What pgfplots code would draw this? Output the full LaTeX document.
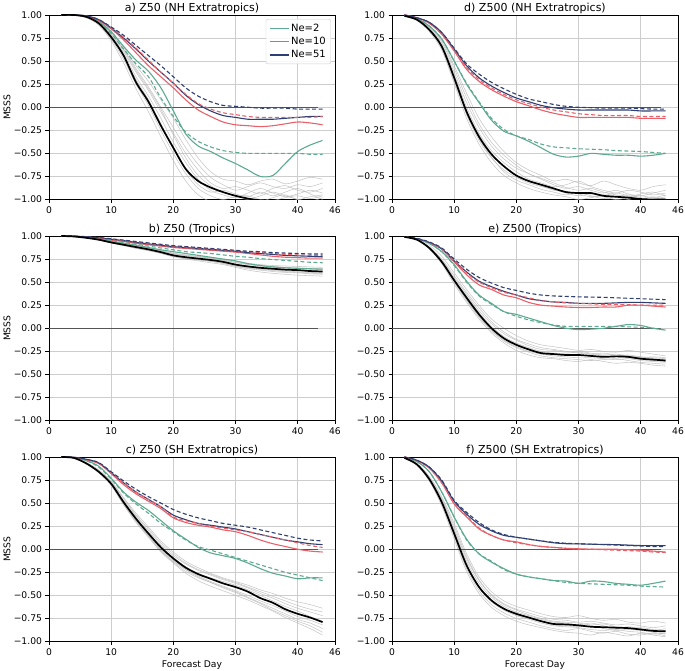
\documentclass[border=0pt]{standalone}
\usepackage{fontspec}
\setmainfont{DejaVu Sans}
\usepackage{pgfplots}
\usepackage{pgfplotstable}
\pgfplotsset{compat=1.18}
\usepgfplotslibrary{groupplots}

\definecolor{cgreen}{RGB}{94,170,145}
\definecolor{cred}{RGB}{232,96,106}
\definecolor{cnavy}{RGB}{46,63,114}
\definecolor{cgray}{RGB}{185,185,185}
\definecolor{cgrid}{RGB}{205,205,205}
\definecolor{czero}{RGB}{85,85,85}

% ---------- panel a: Z50 NH extratropics
\pgfplotstableread{
name 2 4 6 8 10 12 14 16 18 20 22 24 26 28 30 32 34 36 38 40 42 44
g1 1 1 0.99 0.93 0.81 0.65 0.45 0.28 0.08 -0.12 -0.35 -0.55 -0.70 -0.78 -0.80 -0.84 -0.80 -0.78 -0.83 -0.80 -0.76 -0.78
g2 1 1 0.98 0.92 0.78 0.60 0.38 0.18 -0.05 -0.28 -0.50 -0.68 -0.82 -0.88 -0.86 -0.90 -0.94 -0.88 -0.85 -0.90 -0.92 -0.88
g3 1 1 0.98 0.91 0.77 0.58 0.33 0.12 -0.12 -0.38 -0.60 -0.78 -0.90 -0.95 -0.98 -0.93 -0.88 -0.93 -0.97 -0.94 -0.90 -0.93
g4 1 1 0.98 0.90 0.74 0.52 0.25 0.02 -0.25 -0.50 -0.72 -0.88 -0.96 -1.00 -0.97 -0.99 -1.02 -0.98 -0.95 -1.00 -0.97 -0.95
g5 1 1 0.97 0.89 0.72 0.48 0.20 -0.05 -0.32 -0.58 -0.80 -0.95 -1.02 -1.03 -1.02 -1.00 -0.96 -0.92 -0.96 -1.00 -1.02 -0.98
g6 1 1 0.99 0.93 0.80 0.63 0.42 0.22 0.00 -0.22 -0.44 -0.62 -0.76 -0.84 -0.90 -0.86 -0.82 -0.86 -0.88 -0.84 -0.86 -0.82
g7 1 1 0.98 0.91 0.76 0.55 0.30 0.08 -0.18 -0.45 -0.68 -0.84 -0.92 -0.90 -0.94 -0.97 -0.92 -0.96 -0.92 -0.88 -0.94 -1.00
g8 1 1 0.98 0.92 0.79 0.62 0.40 0.20 -0.02 -0.30 -0.55 -0.74 -0.85 -0.92 -0.96 -0.96 -1.00 -1.01 -0.98 -0.96 -0.99 -0.96
n2 1 1 0.98 0.93 0.82 0.66 0.51 0.39 0.21 -0.04 -0.29 -0.42 -0.48 -0.55 -0.61 -0.68 -0.75 -0.74 -0.61 -0.48 -0.41 -0.36
n2d 1 1 0.98 0.92 0.80 0.63 0.47 0.33 0.10 -0.10 -0.27 -0.37 -0.43 -0.47 -0.49 -0.50 -0.50 -0.50 -0.50 -0.50 -0.51 -0.51
n10 1 1 0.98 0.94 0.85 0.73 0.59 0.45 0.33 0.21 0.08 -0.03 -0.10 -0.16 -0.19 -0.20 -0.21 -0.20 -0.18 -0.16 -0.17 -0.19
n10d 1 1 0.99 0.95 0.86 0.76 0.64 0.51 0.38 0.26 0.14 0.04 -0.02 -0.06 -0.08 -0.10 -0.11 -0.11 -0.11 -0.11 -0.11 -0.10
n51 1 1 0.99 0.95 0.86 0.75 0.63 0.50 0.38 0.26 0.13 0.03 -0.04 -0.09 -0.11 -0.13 -0.13 -0.13 -0.12 -0.11 -0.10 -0.10
n51d 1 1 0.99 0.95 0.87 0.78 0.67 0.56 0.45 0.33 0.21 0.12 0.06 0.02 0.01 0.00 -0.01 -0.01 -0.01 -0.02 -0.02 -0.02
blk 1 1 0.98 0.91 0.76 0.56 0.27 0.06 -0.20 -0.44 -0.67 -0.80 -0.87 -0.92 -0.96 -0.99 -1.01 -1.02 -1.03 -1.03 -1.03 -1.03
}\rawA
% ---------- panel d: Z500 NH extratropics
\pgfplotstableread{
name 2 4 6 8 10 12 14 16 18 20 22 24 26 28 30 32 34 36 38 40 42 44
g1 0.99 0.96 0.87 0.72 0.45 0.15 -0.12 -0.32 -0.48 -0.60 -0.68 -0.74 -0.80 -0.78 -0.82 -0.85 -0.80 -0.84 -0.88 -0.90 -0.86 -0.84
g2 0.99 0.95 0.85 0.68 0.38 0.05 -0.22 -0.42 -0.56 -0.66 -0.72 -0.78 -0.84 -0.88 -0.86 -0.90 -0.93 -0.90 -0.94 -0.96 -0.93 -0.90
g3 0.99 0.95 0.84 0.65 0.30 -0.08 -0.36 -0.55 -0.68 -0.76 -0.82 -0.86 -0.89 -0.93 -0.96 -0.94 -0.97 -1.00 -0.98 -0.96 -0.98 -0.95
g4 0.99 0.94 0.82 0.62 0.26 -0.12 -0.40 -0.60 -0.74 -0.82 -0.88 -0.92 -0.95 -0.97 -1.00 -0.98 -0.95 -0.97 -1.00 -1.02 -1.00 -0.97
g5 0.99 0.95 0.85 0.67 0.35 0.00 -0.28 -0.47 -0.60 -0.70 -0.78 -0.82 -0.86 -0.84 -0.80 -0.86 -0.90 -0.93 -0.90 -0.92 -0.95 -0.93
g6 0.99 0.95 0.83 0.64 0.28 -0.06 -0.34 -0.54 -0.70 -0.79 -0.84 -0.89 -0.92 -0.95 -0.92 -0.96 -0.99 -0.97 -0.95 -0.98 -1.00 -0.99
g7 0.99 0.96 0.86 0.70 0.42 0.10 -0.18 -0.38 -0.52 -0.63 -0.72 -0.77 -0.82 -0.87 -0.90 -0.88 -0.92 -0.95 -0.97 -0.94 -0.92 -0.96
g8 0.99 0.95 0.84 0.66 0.33 -0.03 -0.30 -0.50 -0.64 -0.74 -0.80 -0.85 -0.90 -0.91 -0.94 -0.97 -0.96 -0.93 -0.96 -0.99 -0.97 -1.00
n2 0.99 0.96 0.88 0.74 0.50 0.25 0.05 -0.14 -0.26 -0.31 -0.37 -0.44 -0.51 -0.54 -0.53 -0.50 -0.51 -0.52 -0.52 -0.53 -0.52 -0.50
n2d 0.99 0.96 0.88 0.74 0.50 0.26 0.06 -0.12 -0.24 -0.31 -0.35 -0.40 -0.43 -0.44 -0.45 -0.455 -0.46 -0.47 -0.475 -0.48 -0.49 -0.50
n10 1.00 0.97 0.91 0.79 0.61 0.41 0.28 0.19 0.12 0.06 0.016 -0.03 -0.065 -0.09 -0.11 -0.11 -0.11 -0.11 -0.11 -0.12 -0.12 -0.12
n10d 1.00 0.97 0.91 0.80 0.62 0.43 0.30 0.21 0.14 0.08 0.04 0.00 -0.03 -0.05 -0.07 -0.08 -0.09 -0.09 -0.09 -0.10 -0.10 -0.10
n51 1.00 0.97 0.92 0.81 0.63 0.45 0.32 0.23 0.16 0.10 0.06 0.02 -0.005 -0.02 -0.03 -0.03 -0.03 -0.03 -0.03 -0.04 -0.04 -0.04
n51d 1.00 0.97 0.92 0.81 0.64 0.47 0.36 0.27 0.20 0.14 0.09 0.06 0.03 0.01 0.00 -0.005 -0.01 -0.01 -0.01 -0.015 -0.02 -0.02
blk 0.99 0.95 0.84 0.66 0.32 -0.05 -0.32 -0.51 -0.64 -0.74 -0.80 -0.84 -0.88 -0.92 -0.93 -0.93 -0.96 -0.97 -0.98 -0.995 -1.00 -1.00
}\rawD
% ---------- panel b: Z50 tropics
\pgfplotstableread{
name 2 4 6 8 10 12 14 16 18 20 22 24 26 28 30 32 34 36 38 40 42 44
g1 1.00 0.995 0.985 0.965 0.94 0.92 0.895 0.87 0.845 0.815 0.795 0.78 0.765 0.75 0.725 0.705 0.69 0.68 0.675 0.67 0.665 0.66
g2 1.00 0.995 0.98 0.955 0.925 0.90 0.87 0.845 0.815 0.78 0.755 0.74 0.725 0.70 0.67 0.645 0.63 0.615 0.605 0.60 0.59 0.585
g3 1.00 0.995 0.98 0.96 0.93 0.905 0.88 0.855 0.825 0.795 0.775 0.76 0.745 0.725 0.695 0.675 0.66 0.65 0.64 0.63 0.625 0.62
g4 1.00 0.994 0.978 0.955 0.925 0.895 0.865 0.84 0.81 0.775 0.75 0.73 0.71 0.69 0.66 0.63 0.61 0.595 0.585 0.575 0.57 0.565
g5 1.00 0.996 0.983 0.963 0.935 0.912 0.888 0.865 0.838 0.805 0.785 0.77 0.755 0.735 0.71 0.69 0.675 0.665 0.655 0.645 0.64 0.635
g6 1.00 0.995 0.98 0.958 0.928 0.902 0.876 0.85 0.82 0.788 0.765 0.748 0.733 0.71 0.68 0.66 0.645 0.632 0.622 0.612 0.605 0.60
g7 1.00 0.996 0.984 0.962 0.936 0.914 0.89 0.866 0.84 0.81 0.79 0.775 0.76 0.74 0.715 0.695 0.68 0.67 0.66 0.652 0.648 0.645
g8 1.00 0.994 0.979 0.957 0.927 0.90 0.872 0.846 0.817 0.783 0.76 0.743 0.727 0.705 0.675 0.652 0.637 0.625 0.613 0.605 0.598 0.59
n2 1.00 0.995 0.985 0.965 0.94 0.92 0.90 0.875 0.85 0.83 0.81 0.79 0.77 0.75 0.73 0.70 0.68 0.665 0.655 0.65 0.645 0.64
n2d 1.00 0.995 0.985 0.97 0.95 0.93 0.91 0.89 0.87 0.85 0.83 0.82 0.81 0.795 0.78 0.77 0.755 0.745 0.735 0.725 0.715 0.71
n10 1.00 0.997 0.99 0.975 0.955 0.94 0.92 0.905 0.89 0.875 0.865 0.855 0.845 0.835 0.825 0.81 0.795 0.78 0.77 0.765 0.76 0.76
n10d 1.00 0.997 0.99 0.98 0.965 0.95 0.935 0.92 0.905 0.89 0.88 0.87 0.86 0.85 0.84 0.83 0.82 0.81 0.80 0.795 0.79 0.79
n51 1.00 0.997 0.99 0.98 0.965 0.95 0.93 0.915 0.90 0.885 0.875 0.865 0.855 0.845 0.835 0.82 0.81 0.80 0.79 0.785 0.78 0.775
n51d 1.00 0.998 0.993 0.983 0.97 0.955 0.94 0.925 0.91 0.895 0.885 0.875 0.865 0.855 0.845 0.835 0.83 0.82 0.815 0.81 0.805 0.805
blk 1.00 0.995 0.98 0.96 0.93 0.905 0.88 0.855 0.825 0.79 0.77 0.755 0.74 0.72 0.69 0.67 0.655 0.645 0.635 0.63 0.62 0.615
}\rawB
% ---------- panel e: Z500 tropics
\pgfplotstableread{
name 2 4 6 8 10 12 14 16 18 20 22 24 26 28 30 32 34 36 38 40 42 44
g1 0.99 0.97 0.90 0.78 0.60 0.42 0.25 0.10 0.00 -0.08 -0.14 -0.18 -0.20 -0.22 -0.24 -0.23 -0.25 -0.26 -0.24 -0.26 -0.28 -0.30
g2 0.99 0.96 0.88 0.74 0.55 0.37 0.19 0.05 -0.06 -0.13 -0.19 -0.23 -0.24 -0.26 -0.25 -0.27 -0.29 -0.28 -0.30 -0.31 -0.32 -0.33
g3 0.99 0.96 0.87 0.71 0.50 0.30 0.12 -0.03 -0.14 -0.21 -0.26 -0.30 -0.32 -0.33 -0.34 -0.35 -0.34 -0.33 -0.35 -0.37 -0.38 -0.39
g4 0.99 0.96 0.86 0.70 0.48 0.28 0.10 -0.05 -0.16 -0.24 -0.29 -0.32 -0.33 -0.35 -0.36 -0.34 -0.36 -0.38 -0.37 -0.38 -0.40 -0.41
g5 0.99 0.96 0.87 0.73 0.53 0.35 0.17 0.02 -0.09 -0.16 -0.21 -0.25 -0.27 -0.27 -0.26 -0.28 -0.30 -0.30 -0.29 -0.31 -0.33 -0.34
g6 0.99 0.96 0.88 0.75 0.57 0.39 0.22 0.07 -0.04 -0.12 -0.17 -0.21 -0.23 -0.25 -0.27 -0.28 -0.27 -0.29 -0.31 -0.32 -0.31 -0.32
g7 0.99 0.96 0.86 0.71 0.51 0.31 0.13 -0.02 -0.13 -0.20 -0.25 -0.28 -0.30 -0.31 -0.32 -0.32 -0.33 -0.34 -0.33 -0.35 -0.36 -0.37
g8 0.99 0.96 0.87 0.72 0.52 0.34 0.16 0.01 -0.10 -0.17 -0.22 -0.26 -0.28 -0.28 -0.29 -0.30 -0.31 -0.31 -0.32 -0.34 -0.35 -0.36
n2 0.99 0.97 0.92 0.83 0.69 0.51 0.36 0.27 0.18 0.15 0.11 0.07 0.03 0.00 -0.015 -0.01 0.00 0.02 0.04 0.03 0.00 -0.02
n2d 0.99 0.97 0.92 0.83 0.68 0.50 0.35 0.26 0.18 0.13 0.09 0.06 0.035 0.02 0.02 0.02 0.02 0.02 0.015 0.01 0.00 -0.02
n10 0.99 0.97 0.93 0.86 0.72 0.58 0.47 0.42 0.36 0.33 0.28 0.25 0.24 0.23 0.225 0.225 0.23 0.23 0.25 0.25 0.24 0.23
n10d 0.99 0.97 0.93 0.86 0.73 0.60 0.50 0.44 0.39 0.36 0.33 0.30 0.285 0.275 0.27 0.265 0.26 0.26 0.255 0.25 0.25 0.25
n51 0.99 0.97 0.93 0.86 0.73 0.61 0.51 0.45 0.40 0.36 0.32 0.30 0.285 0.28 0.27 0.27 0.27 0.275 0.28 0.28 0.275 0.27
n51d 0.99 0.975 0.935 0.87 0.75 0.64 0.55 0.49 0.44 0.41 0.38 0.36 0.35 0.345 0.34 0.338 0.335 0.33 0.325 0.32 0.315 0.31
blk 0.99 0.96 0.87 0.72 0.52 0.33 0.15 0.00 -0.11 -0.18 -0.23 -0.27 -0.28 -0.29 -0.29 -0.30 -0.31 -0.305 -0.31 -0.33 -0.34 -0.35
}\rawE
% ---------- panel c: Z50 SH extratropics
\pgfplotstableread{
name 2 4 6 8 10 12 14 16 18 20 22 24 26 28 30 32 34 36 38 40 42 44
g1 1.00 0.99 0.94 0.86 0.74 0.56 0.39 0.24 0.09 -0.03 -0.13 -0.20 -0.26 -0.31 -0.35 -0.39 -0.44 -0.48 -0.53 -0.57 -0.60 -0.64
g2 1.00 0.99 0.93 0.84 0.70 0.50 0.31 0.15 -0.01 -0.14 -0.24 -0.31 -0.36 -0.41 -0.46 -0.52 -0.58 -0.64 -0.70 -0.76 -0.80 -0.86
g3 1.00 0.99 0.93 0.83 0.69 0.48 0.29 0.13 -0.03 -0.15 -0.26 -0.34 -0.40 -0.45 -0.50 -0.55 -0.61 -0.67 -0.74 -0.80 -0.86 -0.93
g4 1.00 0.99 0.94 0.85 0.72 0.53 0.36 0.20 0.05 -0.07 -0.16 -0.23 -0.28 -0.33 -0.37 -0.42 -0.48 -0.53 -0.59 -0.64 -0.68 -0.72
g5 1.00 0.99 0.93 0.84 0.71 0.52 0.34 0.18 0.03 -0.09 -0.19 -0.26 -0.31 -0.35 -0.39 -0.44 -0.50 -0.56 -0.62 -0.67 -0.73 -0.78
g6 1.00 0.99 0.93 0.83 0.70 0.49 0.30 0.14 -0.02 -0.13 -0.22 -0.29 -0.35 -0.40 -0.45 -0.50 -0.56 -0.61 -0.67 -0.73 -0.77 -0.82
g7 1.00 0.99 0.94 0.85 0.73 0.55 0.37 0.22 0.07 -0.05 -0.15 -0.22 -0.27 -0.32 -0.36 -0.41 -0.46 -0.51 -0.56 -0.61 -0.65 -0.68
g8 1.00 0.99 0.93 0.84 0.70 0.50 0.32 0.16 0.00 -0.12 -0.22 -0.30 -0.36 -0.42 -0.47 -0.53 -0.59 -0.66 -0.72 -0.78 -0.83 -0.90
n2 1.00 0.995 0.96 0.90 0.77 0.62 0.51 0.42 0.31 0.20 0.11 0.02 -0.04 -0.07 -0.10 -0.15 -0.21 -0.26 -0.29 -0.32 -0.31 -0.31
n2d 1.00 0.995 0.96 0.89 0.76 0.61 0.49 0.39 0.28 0.19 0.10 0.03 -0.01 -0.05 -0.09 -0.13 -0.17 -0.21 -0.25 -0.28 -0.31 -0.34
n10 1.00 0.995 0.97 0.93 0.82 0.70 0.60 0.52 0.44 0.34 0.29 0.26 0.24 0.21 0.19 0.15 0.10 0.06 0.03 0.00 -0.02 -0.03
n10d 1.00 0.995 0.97 0.93 0.83 0.72 0.62 0.54 0.46 0.35 0.31 0.28 0.25 0.23 0.21 0.19 0.16 0.13 0.10 0.07 0.04 0.02
n51 1.00 0.997 0.975 0.935 0.83 0.72 0.62 0.54 0.46 0.37 0.32 0.28 0.26 0.24 0.22 0.19 0.16 0.13 0.10 0.08 0.06 0.05
n51d 1.00 0.997 0.975 0.94 0.84 0.74 0.65 0.57 0.50 0.43 0.38 0.34 0.31 0.28 0.26 0.24 0.21 0.18 0.15 0.12 0.10 0.09
blk 1.00 0.99 0.93 0.84 0.71 0.51 0.33 0.17 0.02 -0.10 -0.20 -0.27 -0.32 -0.37 -0.41 -0.46 -0.53 -0.58 -0.65 -0.70 -0.74 -0.79
}\rawC
% ---------- panel f: Z500 SH extratropics
\pgfplotstableread{
name 2 4 6 8 10 12 14 16 18 20 22 24 26 28 30 32 34 36 38 40 42 44
g1 0.99 0.93 0.79 0.57 0.28 -0.05 -0.30 -0.46 -0.56 -0.62 -0.66 -0.70 -0.73 -0.74 -0.72 -0.75 -0.77 -0.76 -0.79 -0.80 -0.78 -0.80
g2 0.99 0.92 0.77 0.53 0.20 -0.13 -0.37 -0.52 -0.62 -0.68 -0.72 -0.76 -0.79 -0.80 -0.82 -0.80 -0.83 -0.86 -0.84 -0.86 -0.88 -0.86
g3 0.99 0.91 0.75 0.49 0.14 -0.21 -0.45 -0.60 -0.69 -0.75 -0.79 -0.83 -0.86 -0.88 -0.86 -0.89 -0.91 -0.89 -0.92 -0.93 -0.91 -0.94
g4 0.99 0.91 0.74 0.47 0.11 -0.24 -0.48 -0.63 -0.72 -0.78 -0.82 -0.85 -0.88 -0.90 -0.91 -0.93 -0.90 -0.92 -0.94 -0.91 -0.93 -0.95
g5 0.99 0.92 0.77 0.54 0.22 -0.10 -0.34 -0.49 -0.59 -0.65 -0.69 -0.73 -0.76 -0.77 -0.79 -0.78 -0.80 -0.82 -0.81 -0.83 -0.85 -0.83
g6 0.99 0.92 0.76 0.50 0.16 -0.18 -0.42 -0.57 -0.66 -0.72 -0.76 -0.80 -0.83 -0.84 -0.85 -0.87 -0.88 -0.87 -0.89 -0.90 -0.92 -0.91
g7 0.99 0.93 0.78 0.55 0.25 -0.08 -0.33 -0.50 -0.60 -0.66 -0.71 -0.75 -0.78 -0.79 -0.80 -0.82 -0.81 -0.84 -0.86 -0.85 -0.87 -0.88
g8 0.99 0.92 0.76 0.51 0.18 -0.16 -0.40 -0.55 -0.65 -0.71 -0.75 -0.78 -0.82 -0.83 -0.84 -0.83 -0.86 -0.88 -0.87 -0.88 -0.90 -0.92
n2 0.99 0.95 0.84 0.62 0.35 0.11 -0.05 -0.14 -0.21 -0.27 -0.30 -0.32 -0.34 -0.345 -0.37 -0.345 -0.35 -0.37 -0.38 -0.39 -0.37 -0.345
n2d 0.99 0.95 0.84 0.62 0.35 0.10 -0.05 -0.13 -0.22 -0.27 -0.30 -0.32 -0.34 -0.36 -0.37 -0.375 -0.38 -0.385 -0.39 -0.40 -0.405 -0.41
n10 1.00 0.96 0.88 0.72 0.49 0.35 0.22 0.15 0.10 0.08 0.05 0.03 0.02 0.01 0.005 0.00 0.00 0.00 -0.005 -0.01 -0.02 -0.03
n10d 1.00 0.96 0.88 0.72 0.50 0.36 0.23 0.15 0.10 0.07 0.05 0.03 0.02 0.01 0.00 0.00 -0.005 -0.01 -0.015 -0.02 -0.03 -0.035
n51 1.00 0.965 0.89 0.74 0.52 0.38 0.27 0.20 0.15 0.13 0.11 0.09 0.07 0.06 0.058 0.055 0.052 0.05 0.045 0.04 0.04 0.04
n51d 1.00 0.965 0.89 0.75 0.53 0.40 0.29 0.21 0.16 0.13 0.11 0.09 0.075 0.065 0.06 0.055 0.05 0.045 0.04 0.035 0.03 0.03
blk 0.99 0.92 0.76 0.51 0.17 -0.175 -0.41 -0.555 -0.645 -0.70 -0.74 -0.78 -0.81 -0.815 -0.825 -0.84 -0.845 -0.85 -0.855 -0.87 -0.885 -0.89
}\rawF

\pgfplotstabletranspose[colnames from=name]\tA\rawA
\pgfplotstabletranspose[colnames from=name]\tB\rawB
\pgfplotstabletranspose[colnames from=name]\tC\rawC
\pgfplotstabletranspose[colnames from=name]\tD\rawD
\pgfplotstabletranspose[colnames from=name]\tE\rawE
\pgfplotstabletranspose[colnames from=name]\tF\rawF

\pgfplotsset{
  gl/.style={cgray, line width=0.55pt, opacity=0.8, smooth, forget plot},
  zl/.style={czero, line width=1.2pt, forget plot},
  s2/.style={cgreen, line width=1.1pt, smooth},
  s10/.style={cred, line width=1.1pt, smooth},
  s51/.style={cnavy, line width=1.1pt, smooth},
  dsh/.style={dash pattern=on 4pt off 2.5pt, forget plot},
  bl/.style={black, line width=1.7pt, smooth, forget plot},
}

\newcommand\drawpanel[1]{%
  \pgfplotsinvokeforeach{g1,g2,g3,g4,g5,g6,g7,g8}{\addplot[gl] table[x=colnames,y=##1]{#1};}
  \addplot[zl] coordinates {(0,0) (43.3,0)};
  \addplot[s2] table[x=colnames,y=n2]{#1};
  \addplot[s10] table[x=colnames,y=n10]{#1};
  \addplot[s51] table[x=colnames,y=n51]{#1};
  \addplot[s2,dsh] table[x=colnames,y=n2d]{#1};
  \addplot[s10,dsh] table[x=colnames,y=n10d]{#1};
  \addplot[s51,dsh] table[x=colnames,y=n51d]{#1};
  \addplot[bl] table[x=colnames,y=blk]{#1};
}

\begin{document}
\begin{tikzpicture}
\begin{groupplot}[
  group style={group size=2 by 3, horizontal sep=57pt, vertical sep=36.5pt},
  width=286pt, height=184.5pt, scale only axis,
  xmin=0, xmax=46, ymin=-1, ymax=1,
  xtick={0,10,20,30,40,46},
  ytick={-1,-0.75,-0.5,-0.25,0,0.25,0.5,0.75,1},
  yticklabels={−1.00,−0.75,−0.50,−0.25,0.00,0.25,0.50,0.75,1.00},
  /pgf/number format/assume math mode=true,
  tick label style={font=\fontsize{9.2}{11}\selectfont},
  label style={font=\fontsize{9.2}{11}\selectfont},
  title style={font=\fontsize{11}{13}\selectfont, yshift=-8.5pt},
  grid=major, grid style={cgrid, line width=0.6pt},
  tick align=outside, xtick pos=lower, ytick pos=left,
  major tick length=3.5pt, tick style={black, line width=0.6pt},
  axis line style={black, line width=0.7pt},
  x label style={at={(axis description cs:0.5,-0.128)}, anchor=center},
  y label style={at={(axis description cs:-0.147,0.5)}, anchor=center},
  legend cell align=left,
  legend image code/.code={\draw[#1] (0pt,0pt) -- (19pt,0pt);},
  legend style={at={(0.986,0.978)}, anchor=north east,
    font=\fontsize{10}{12}\selectfont, draw=cgrid, rounded corners=2pt,
    fill=white, fill opacity=0.85, text opacity=1,
    inner xsep=3pt, inner ysep=2.5pt, row sep=0.5pt},
]
\nextgroupplot[title={a) Z50 (NH Extratropics)}, ylabel={MSSS},
  legend entries={Ne=2,Ne=10,Ne=51}]
\drawpanel{\tA}
\nextgroupplot[title={d) Z500 (NH Extratropics)}]
\drawpanel{\tD}
\nextgroupplot[title={b) Z50 (Tropics)}, ylabel={MSSS}]
\drawpanel{\tB}
\nextgroupplot[title={e) Z500 (Tropics)}]
\drawpanel{\tE}
\nextgroupplot[title={c) Z50 (SH Extratropics)}, ylabel={MSSS}, xlabel={Forecast Day}]
\drawpanel{\tC}
\nextgroupplot[title={f) Z500 (SH Extratropics)}, xlabel={Forecast Day}]
\drawpanel{\tF}
\end{groupplot}
\pgfresetboundingbox
\useasboundingbox (group c1r1.north west) ++(-49pt,15pt) rectangle ++(685pt,-671pt);
\end{tikzpicture}
\end{document}
